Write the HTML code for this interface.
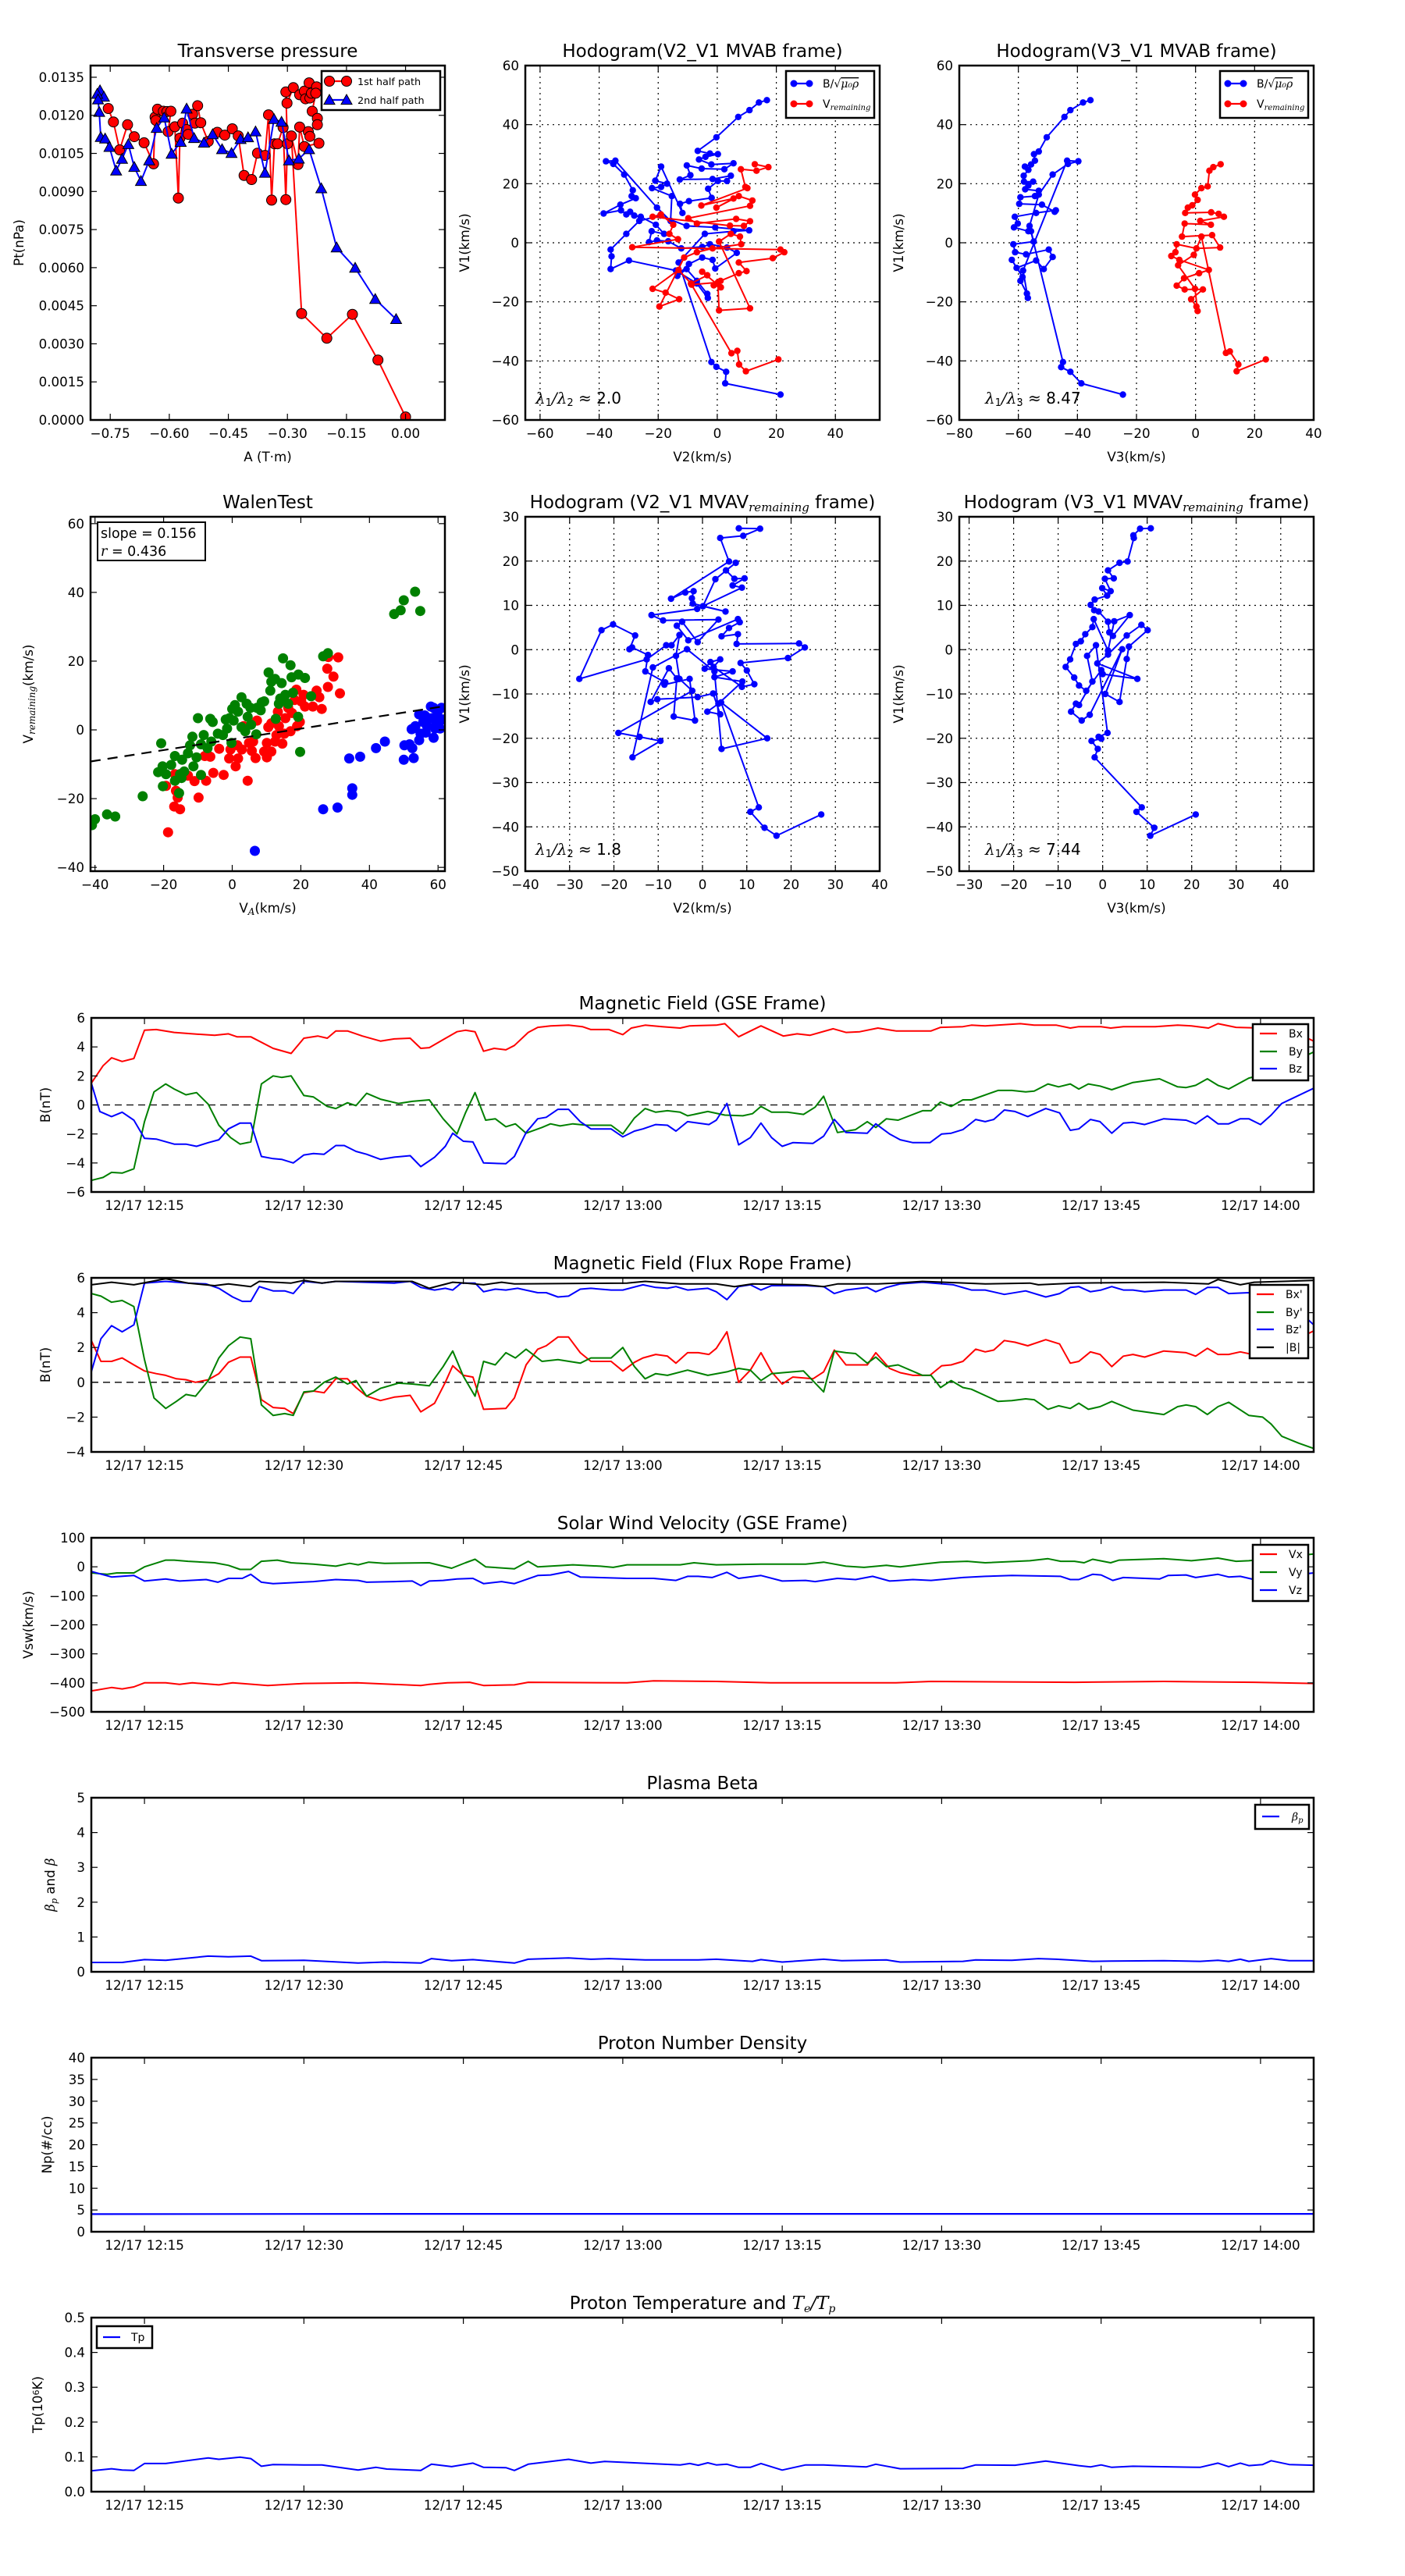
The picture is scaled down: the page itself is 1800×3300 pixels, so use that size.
<!DOCTYPE html>
<html><head><meta charset="utf-8">
<style>
html,body{margin:0;padding:0;background:#fff;width:1800px;height:3300px;overflow:hidden}
svg text{font-family:"DejaVu Sans","Liberation Sans",sans-serif;fill:#000}
</style></head>
<body>
<svg id="fig" width="1800" height="3300" viewBox="0 0 1800 3300" xmlns="http://www.w3.org/2000/svg">
<rect x="0" y="0" width="1800" height="3300" fill="#fff"/>
</svg>
<script>
// ===== DATA =====
// Transverse pressure: [A (T·m), Pt (nPa)]
const tpFirst = [[-0.755,0.01227],[-0.742,0.01174],[-0.726,0.01064],[-0.706,0.01163],[-0.689,0.01116],[-0.664,0.01092],[-0.640,0.01009],[-0.636,0.01193],[-0.630,0.01224],[-0.634,0.0118],[-0.615,0.01216],[-0.606,0.01215],[-0.596,0.01216],[-0.603,0.01136],[-0.586,0.01155],[-0.577,0.00874],[-0.573,0.0111],[-0.566,0.01169],[-0.556,0.01144],[-0.552,0.01125],[-0.541,0.01204],[-0.535,0.01169],[-0.528,0.01238],[-0.520,0.01171],[-0.501,0.01097],[-0.478,0.01133],[-0.459,0.01122],[-0.440,0.01147],[-0.425,0.01119],[-0.410,0.00963],[-0.391,0.00947],[-0.376,0.01051],[-0.357,0.01042],[-0.348,0.01202],[-0.340,0.00866],[-0.333,0.01088],[-0.325,0.01088],[-0.311,0.01152],[-0.304,0.00868],[-0.300,0.01088],[-0.304,0.01292],[-0.301,0.01248],[-0.285,0.01309],[-0.269,0.01281],[-0.257,0.01295],[-0.254,0.01265],[-0.245,0.01328],[-0.243,0.01268],[-0.239,0.01287],[-0.226,0.01312],[-0.228,0.01287],[-0.237,0.01216],[-0.224,0.01188],[-0.224,0.01163],[-0.247,0.01136],[-0.243,0.01117],[-0.220,0.0109],[-0.257,0.01077],[-0.269,0.01154],[-0.273,0.01006],[-0.290,0.01119],[-0.264,0.00419],[-0.200,0.00322],[-0.135,0.00416],[-0.070,0.00236],[0.0,0.00012]];
const tpSecond = [[-0.776,0.01298],[-0.766,0.01273],[-0.783,0.01284],[-0.781,0.01262],[-0.778,0.01213],[-0.774,0.01114],[-0.763,0.01108],[-0.752,0.01075],[-0.735,0.00982],[-0.720,0.01028],[-0.704,0.01086],[-0.689,0.00996],[-0.672,0.00941],[-0.651,0.01022],[-0.632,0.0115],[-0.613,0.01191],[-0.594,0.01048],[-0.571,0.01095],[-0.556,0.01226],[-0.537,0.0111],[-0.512,0.01092],[-0.490,0.01125],[-0.466,0.01066],[-0.442,0.01051],[-0.419,0.01106],[-0.400,0.01113],[-0.381,0.01136],[-0.357,0.00973],[-0.334,0.01185],[-0.315,0.01174],[-0.296,0.01022],[-0.271,0.01029],[-0.245,0.01066],[-0.214,0.00912],[-0.175,0.00679],[-0.128,0.00599],[-0.077,0.00476],[-0.024,0.00397]];
const tpXTicks = [-0.75,-0.60,-0.45,-0.30,-0.15,0.00];
const tpYTicks = [0,0.0015,0.003,0.0045,0.006,0.0075,0.009,0.0105,0.012,0.0135];

// Hodogram (V2_V1 MVAB): [V2, V1]
const hodo1B = [[16.8,48.3],[14.1,47.5],[10.9,44.9],[7.1,42.6],[-0.3,35.7],[-6.6,31.1],[-2.5,30.2],[0.2,30],[-4,29.1],[-6.2,28.2],[-2,26.5],[5.5,26.9],[2.4,24.9],[-5.3,25.1],[-10.3,26.2],[-9.1,22.9],[-12.7,21.4],[-1.6,21.6],[4.6,22.7],[3.3,20.9],[0.2,20.9],[-3.1,18.3],[-1.9,15.2],[-9.6,14.1],[-12.6,13.2],[-11.8,10.1],[-19,25.8],[-21,21],[-17,20],[-19,18.9],[-22.1,18.5],[-15.4,15.8],[-15.8,7.4],[-20.4,11.9],[-34.5,27.8],[-37.7,27.6],[-35.2,26.7],[-31.5,23.1],[-28.6,17.8],[-29,15.8],[-27.6,15.1],[-32.8,12.9],[-38.5,9.9],[-32.6,11],[-30.8,9.6],[-29.5,10.5],[-28.1,9.2],[-25.9,8.8],[-20.8,6.1],[-18,3],[-22.2,3.9],[-23.1,0.2],[-20.4,0.8],[-16.6,0.5],[-12.2,-1.9],[-5.1,-1.4],[-2.5,-0.5],[3.3,-1.6],[6.6,-3.4],[-0.7,-8.7],[-1.6,-5.8],[-5.1,-5],[-9.6,-7.2],[-13.5,-11.2],[-10.4,-8.9],[-6.9,-12.9],[-3.4,-17.3],[-3.2,-18.7],[-6.9,-13.8],[-14,-9.4],[-29.9,-6],[-36.1,-8.9],[-35.8,-4.6],[-36.1,-2.3],[-30.8,3],[-26.4,7.4],[-19.3,9.2],[-10.4,5.7],[-0.7,5.2],[10.8,4.2],[5.5,3.9],[-4.2,3],[-13.1,-6.7],[-2,-40.4],[-0.3,-42],[3,-43.7],[2.7,-47.6],[21.4,-51.4]];
const hodo1V = [[12.7,26.6],[17.3,25.6],[13.3,24.4],[8,24.9],[9.5,18.9],[10.2,18.5],[-5.4,12.6],[5.5,15],[-0.3,11.9],[7.3,15.8],[11.9,14.3],[11.1,12.5],[-9.8,8.3],[-6.9,6.5],[6.4,8.1],[11.1,7.3],[9,5.7],[4.3,5.8],[-21.9,8.8],[-19.1,9.6],[-14.9,6.1],[-16.2,3],[-13.3,1.2],[-28.8,-1.5],[21.4,-2.3],[22.7,-3.2],[18.8,-5.2],[7.3,-6.7],[9.9,-9.6],[7.3,-10.3],[1.1,-12.9],[-1.2,-14.4],[1.2,-15.1],[-5.1,-9.8],[-3.4,-11],[-8.9,-13.8],[-13.1,-9.2],[-21.9,-15.6],[-17.5,-16.9],[-12.9,-19.1],[-19.6,-21.6],[-11.2,-5],[-6.9,-3.2],[-1.6,-1.9],[8.1,-0.5],[7.7,2.1],[4.6,3],[0.6,0.4],[11.1,-22.2],[0.6,-22.9],[0.2,-13.4],[-8.7,-14.2],[4.8,-37.4],[6.8,-36.6],[7.4,-41.2],[9.7,-43.5],[20.7,-39.5]];
// Hodogram (V3_V1 MVAB): [V3, V1]
const hodo2B = [[-35.6,48.3],[-38.1,47.5],[-42.4,44.9],[-44.4,42.6],[-50.4,35.7],[-53.1,30.9],[-54.7,30],[-54.4,27.8],[-55.7,26.5],[-57.8,25.8],[-56.6,24.7],[-58.2,22.7],[-58.1,20.7],[-55,20.7],[-56.6,19.4],[-57.7,18.1],[-53.1,17.6],[-54.4,15.8],[-59.3,15.4],[-59.7,13.2],[-52,12.9],[-47.7,10.5],[-47.3,11],[-54,10.1],[-61.2,8.8],[-60.2,6.5],[-61.5,5.2],[-56.6,3.9],[-55.7,3.9],[-54.8,0.4],[-61.7,-0.5],[-61.1,-3.2],[-57.4,-3.9],[-49.7,-2.3],[-48.4,-4.8],[-51.4,-8.9],[-54,-6],[-60.6,-8.5],[-62.2,-5.8],[-58.6,-11.6],[-59.3,-12.9],[-57.1,-17.2],[-56.8,-18.7],[-58.4,-9.4],[-43.5,27.8],[-39.7,27.6],[-43.2,26.7],[-48.4,23.1],[-53.1,16.3],[-56.2,5.7],[-44.9,-40.4],[-45.5,-42.1],[-42.4,-43.7],[-38.7,-47.6],[-24.6,-51.4]];
const hodo2V = [[8.5,26.6],[6,25.6],[4.7,24.4],[4.1,19.1],[2,18.5],[-0.2,16.3],[0.7,14.5],[-1.1,12.7],[-2.6,11.9],[-3.5,10.1],[5.3,10.3],[7.8,9.8],[9.6,8.8],[1.6,7.4],[5.2,6.1],[-3.7,6.5],[-4.6,2.1],[5.6,2.6],[8.3,-1.6],[0.3,-1.9],[-6.4,-0.5],[-6.8,-3.2],[-8.2,-4.5],[-5.5,-5.8],[4.5,-9.2],[1.2,-10.3],[-3.9,-12],[-6.4,-14.5],[-3.7,-15.8],[2.5,-15.8],[-1.5,-19.1],[0.3,-21.6],[0.7,-23.1],[-0.2,-15.6],[-5.9,-7.6],[-0.6,-4.1],[2,2.1],[10.3,-37.3],[11.6,-36.8],[14.5,-41.2],[13.9,-43.5],[23.8,-39.5]];
// Walen test: [V_A, V_remaining]
const walenGreen = [[-40.9,-27.7],[-40,-26],[-36.5,-24.6],[-34.1,-25.2],[-26.1,-19.3],[-20.7,-3.9],[-21.6,-12.3],[-20.3,-10.6],[-20.2,-16.4],[-19.3,-12.9],[-17.8,-10.2],[-16.7,-7.6],[-16.7,-14.8],[-15.5,-18.4],[-15.2,-12.9],[-14.8,-14],[-14.6,-8.7],[-14,-12.1],[-12.9,-6.8],[-12.3,-4.5],[-11.6,-2],[-11.3,-10.6],[-10.4,-8],[-10,3.4],[-9.1,-13.1],[-9.1,-4.2],[-8.3,-1.5],[-7.2,-5.3],[-6.4,3.2],[-5.7,2.3],[-6.1,-3.4],[-4.2,-1.1],[-2.7,-1.5],[-1.9,3],[-1.5,0.4],[-0.8,3.4],[0,6.1],[0.4,2.7],[-0.2,-3.8],[0.8,7.2],[1.7,5.3],[2.7,9.5],[2.7,0.8],[3.8,-0.4],[4.2,7.6],[4.5,3.8],[5.3,6.4],[5.5,1.5],[7,-1.3],[7.2,6.4],[8.3,5.7],[8.6,8],[9.3,8.3],[10.6,16.7],[11.1,11.4],[11.4,14],[12.5,14.8],[12.7,3.2],[13.6,7.6],[14,9.1],[14.4,13.6],[14.8,20.8],[15.5,10.2],[16.3,7.6],[17,18.8],[17.3,15.3],[17.7,10.8],[19.2,3.8],[19.3,16.1],[19.8,-6.4],[21.2,15.1],[23,9.8],[26.5,21.4],[27.9,22.3],[47.2,33.7],[49.1,34.8],[50,37.7],[53.3,40.2],[54.8,34.6]];
const walenRed = [[-18.7,-29.8],[-16.9,-22.3],[-15.2,-23.1],[-19.3,-16.3],[-16.4,-17.7],[-15.9,-19.7],[-16.7,-12.9],[-12.9,-13.3],[-11,-14.9],[-9.8,-19.7],[-7.6,-14.8],[-8,-7.6],[-6.4,-7.8],[-5.5,-12.5],[-3.8,-5.5],[-2.5,-13.1],[-0.9,-8.3],[-0.5,-5.7],[1,-10.6],[1.7,-8.3],[1.5,-4.5],[2.8,-5.7],[3.3,1.1],[4.5,-14.8],[4.9,-3.8],[5.7,-6.1],[6.1,-3.4],[6.8,-8.2],[7.2,2.7],[9.3,-6.3],[10.1,-8],[10.1,-3.8],[10.5,0.8],[11.4,-6.3],[11.4,1.9],[12.5,-3.4],[12.9,-1.5],[13.3,5.3],[13.6,1.1],[14.6,-4],[15.2,-1.1],[15.5,3.4],[16.3,6.4],[17,-0.4],[17.4,4.9],[18.2,8.7],[18.7,11.7],[18.9,1.1],[19.7,2.3],[20.1,8.3],[20.8,10.2],[21.2,6.8],[23.5,6.8],[24.6,11.4],[25.4,9.5],[26.1,6.1],[27.7,17.8],[27.9,12.5],[28,21.2],[29.5,15.5],[30.9,21.1],[31.4,10.6]];
const walenBlue = [[6.6,-35.2],[26.5,-23.1],[30.7,-22.6],[34.1,-8.3],[35,-17],[35,-18.9],[37.3,-7.8],[41.9,-5.3],[44.5,-3.4],[50,-8.7],[50.2,-4.5],[51.7,-4.2],[52.5,-5.3],[52.9,-8.2],[52.3,0.2],[53.4,1.1],[54.5,4.5],[54.5,-3],[55.7,2.3],[56.4,-0.8],[57.2,3.4],[57.9,6.8],[58.7,6.4],[58.7,-2.3],[59.5,1.9],[59.8,4.9],[60.6,0.4],[61,6.4],[61.4,3],[52.7,0.4],[54.9,-1.1],[56.1,4.2],[56.8,1.1],[58.3,3.4],[59.1,0.4],[60.2,3.4]];
const walenFit = [0.156, -2.76];
// Hodogram (V2_V1 MVAV remaining)
const hodo3B = [[8.2,27.4],[13,27.3],[9.2,25.7],[4,25.2],[6,19.9],[-7.1,11.5],[-3.9,12.9],[-2,13.2],[-2.4,11.6],[-2.2,10.4],[5.2,8.6],[0.1,9.8],[2.9,15.9],[7.5,19.6],[5.3,17.9],[7.2,16],[9.5,16.1],[6.8,14.5],[8.9,14],[-1.2,9.2],[-11.5,7.8],[-8.9,6.6],[3.6,6.8],[-1.1,1.7],[-4.6,6.3],[-5.8,5.4],[-3.2,2.1],[8,6.9],[8.4,6.2],[6,4.9],[4.3,3],[8,3.5],[7.7,1.3],[21.8,1.4],[23.1,0.5],[19.3,-1.9],[8.6,-3],[10,-4.7],[11.7,-7.8],[8.9,-8.4],[2.5,-3.9],[4,-2.2],[1.8,-2.8],[0.5,-4.3],[6.8,-4.9],[2.7,-6.2],[9,-7.2],[3.6,-12.2],[1.1,-14],[4,-14.6],[2.4,-9.9],[-1.1,-10.7],[-10.2,-11.2],[-11.7,-11.8],[-7.6,-4.2],[-5.8,-6.5],[-6.5,-15.1],[-1.7,-16],[-2.9,-6.6],[-8.6,-7.9],[-8.4,-7.4],[-12.9,-4.9],[-12.3,-1.2],[-15.9,0.5],[-16.5,0.1],[-15.2,3.2],[-20.2,5.7],[-22.8,4.4],[-27.8,-6.6],[-12.6,-2.2],[-8.2,1],[-7,1],[-5.2,3.3],[-6,-1.4],[-5.2,-6.6],[-2.3,-9.3],[-19,-18.8],[-14.2,-19.7],[-9.5,-20.6],[-15.8,-24.3],[-11.2,-4],[-3.5,0.1],[2.7,-4.9],[4.3,-22.4],[14.6,-20],[4.2,-11.9],[12.7,-35.6],[10.8,-36.6],[14,-40.2],[16.7,-42],[26.8,-37.2]];
// Hodogram (V3_V1 MVAV remaining)
const hodo4B = [[10.8,27.4],[8.4,27.3],[6.9,25.8],[7,25.2],[5.6,19.9],[3.8,19.6],[1.2,17.9],[2.5,16.1],[0.5,16],[1.8,13.2],[-0.1,13.9],[1,12.2],[-1.8,11.3],[-2.7,10.1],[-1.9,8.9],[-0.9,8.6],[1.2,6.3],[1.5,3.9],[2.3,3.1],[6.1,7.8],[2.6,6.4],[1.2,-0.2],[-2,6.9],[-2.3,5.1],[-3.9,3.5],[-4.9,1.9],[-6,1.3],[-7.3,-2.2],[-8.3,-3.9],[-6.4,-6.3],[-5.3,-8.1],[-3.7,-9.3],[-0.3,-4.6],[0,-5.5],[7.8,-6.6],[-1.2,-3.1],[1.2,-1.1],[5.4,3.2],[8.7,5.6],[10.1,4.4],[5.9,0.7],[5.4,-2.1],[3.8,-11.8],[0.6,-10],[4.4,0.1],[-2.9,-14.7],[-4.7,-16],[-7.1,-14],[-6,-12.2],[-5.3,-12.5],[-2.3,-7.2],[-3.5,-1.4],[-1.5,1],[1.1,-18.8],[-0.9,-19.7],[-0.3,-20.1],[-2.5,-20.6],[-1.1,-22.4],[-1.8,-24.3],[8.8,-35.6],[7.6,-36.6],[11.6,-40.2],[10.7,-42],[20.9,-37.2]];

// Time series: [minutes since 12:10, value]
const timeTickMinutes = [5,20,35,50,65,80,95,110];
const timeTickLabels = ["12/17 12:15","12/17 12:30","12/17 12:45","12/17 13:00","12/17 13:15","12/17 13:30","12/17 13:45","12/17 14:00"];
const bxGSE = [[0,1.5],[1.1,2.7],[1.9,3.25],[2.9,3.0],[4,3.2],[5,5.15],[6.1,5.2],[7.8,5.0],[9.5,4.9],[11.6,4.8],[12.9,4.9],[13.7,4.7],[15,4.7],[17.1,3.9],[18.8,3.55],[20,4.6],[21.3,4.75],[22.2,4.6],[23,5.1],[24.1,5.1],[25.5,4.75],[27.2,4.4],[28.5,4.55],[30,4.6],[31,3.9],[31.8,3.95],[33.1,4.5],[34.4,5.05],[35.2,5.15],[36.1,5.05],[36.9,3.7],[37.9,3.9],[39,3.8],[39.8,4.1],[41.1,5.0],[42,5.35],[43.2,5.45],[44.9,5.5],[46.2,5.4],[47,5.2],[48.7,5.2],[50,4.85],[50.8,5.3],[52.1,5.5],[53.7,5.4],[55.4,5.3],[56.3,5.45],[58.8,5.5],[59.6,5.6],[60.9,4.7],[63,5.45],[65.1,4.75],[66.4,4.9],[67.6,4.8],[69.8,5.25],[71,5.0],[72.3,5.05],[74,5.3],[75.7,5.1],[79,5.1],[79.9,5.35],[82,5.4],[82.8,5.5],[84.1,5.45],[87.4,5.6],[88.7,5.5],[90.8,5.5],[92.1,5.3],[92.9,5.4],[95,5.4],[95.9,5.3],[97.1,5.4],[100.1,5.4],[102.2,5.5],[103.5,5.45],[105.1,5.3],[106,5.6],[107.7,5.35],[110.2,5.3],[112.7,5.2],[115,4.4]];
const byGSE = [[0,-5.2],[1.1,-5.0],[1.9,-4.65],[2.9,-4.7],[4,-4.4],[5,-1.15],[5.9,0.9],[7,1.45],[7.8,1.1],[8.9,0.7],[9.9,0.85],[11,0.05],[12,-1.4],[13.1,-2.25],[14,-2.7],[15,-2.55],[16,1.45],[17.1,2.0],[17.9,1.9],[18.8,2.0],[20,0.65],[20.9,0.55],[22.2,-0.1],[23,-0.25],[24.1,0.15],[24.9,-0.05],[25.9,0.8],[27.2,0.4],[28.9,0.1],[30.2,0.25],[31.8,0.35],[33.1,-0.95],[34.4,-2.0],[35.2,-0.55],[36.1,0.85],[37.1,-1.05],[38,-0.95],[39,-1.5],[39.9,-1.3],[40.9,-1.95],[42.4,-1.55],[43.2,-1.3],[44.1,-1.45],[45.3,-1.3],[46.6,-1.4],[48.9,-1.4],[50,-2.0],[51.1,-0.9],[52.1,-0.25],[53.1,-0.5],[54.2,-0.4],[55.4,-0.5],[56.1,-0.75],[58,-0.45],[59.6,-0.7],[61.3,-0.75],[62.2,-0.6],[63,-0.1],[64,-0.5],[65.5,-0.5],[67,-0.65],[68.1,-0.15],[68.9,0.6],[70.2,-1.9],[71.9,-1.7],[73,-1.15],[73.8,-1.55],[74.8,-0.95],[75.9,-1.05],[78.2,-0.4],[79,-0.4],[79.9,0.2],[80.9,-0.1],[82,0.35],[82.8,0.35],[85.3,1.0],[86.6,1.0],[87.9,0.9],[88.7,0.95],[90,1.45],[91,1.25],[92.1,1.45],[92.9,1.1],[93.8,1.45],[94.9,1.3],[96,1.05],[98,1.55],[100.5,1.8],[102.2,1.25],[103,1.2],[103.9,1.35],[105,1.8],[106,1.35],[107,1.1],[108.9,1.85],[110.2,2.1],[112,2.6],[115,3.65]];
const bzGSE = [[0,1.5],[0.8,-0.45],[1.9,-0.8],[2.9,-0.5],[4,-1.05],[5,-2.3],[6.1,-2.35],[7.8,-2.7],[8.9,-2.7],[9.9,-2.85],[11,-2.6],[12,-2.4],[12.9,-1.65],[14,-1.25],[15,-1.25],[16,-3.55],[17.1,-3.7],[17.9,-3.75],[19,-4.0],[20,-3.45],[20.9,-3.35],[21.9,-3.4],[23,-2.8],[23.8,-2.8],[24.9,-3.2],[25.9,-3.4],[27.2,-3.75],[28.5,-3.6],[30,-3.5],[31,-4.25],[32.3,-3.6],[33.3,-2.85],[34,-1.95],[35,-2.5],[35.9,-2.55],[36.9,-4.0],[39,-4.05],[39.8,-3.55],[40.9,-1.9],[42,-0.95],[42.8,-0.85],[43.9,-0.3],[44.9,-0.3],[46,-1.15],[47,-1.65],[48.9,-1.65],[50,-2.2],[51.1,-1.8],[51.9,-1.65],[53.1,-1.35],[54.2,-1.4],[55,-1.8],[56.1,-1.15],[57.1,-1.25],[58.1,-1.35],[58.8,-1.05],[59.8,0.1],[60.9,-2.75],[62,-2.25],[63,-1.25],[64,-2.25],[65,-2.85],[66,-2.6],[67.9,-2.65],[68.9,-2.15],[69.9,-1.0],[71,-1.9],[73,-1.95],[73.8,-1.3],[75.1,-2.0],[76.1,-2.4],[77.3,-2.6],[78.9,-2.6],[80,-2.0],[80.9,-1.95],[82,-1.7],[83.2,-1.0],[84.1,-1.15],[84.9,-1.0],[85.9,-0.35],[86.9,-0.45],[88.1,-0.8],[89.8,-0.25],[91.1,-0.55],[92.1,-1.75],[92.9,-1.65],[94,-1.0],[94.9,-1.15],[96,-1.95],[97.1,-1.25],[98,-1.2],[99.1,-1.35],[100.9,-0.95],[103,-1.05],[103.9,-1.3],[105,-0.75],[106,-1.3],[107,-1.3],[108.1,-0.95],[108.9,-0.95],[110,-1.35],[111,-0.7],[112,0.1],[115,1.15]];
const bxFR = [[0,2.4],[0.9,1.2],[1.9,1.2],[2.9,1.4],[4,1.0],[5,0.65],[6.1,0.5],[7,0.4],[8,0.2],[8.9,0.15],[9.8,0.0],[11,0.15],[12,0.5],[12.9,1.15],[14,1.45],[15,1.45],[16,-1.0],[17.1,-1.45],[18.2,-1.5],[19,-1.8],[20,-0.6],[20.9,-0.5],[21.9,-0.6],[23,0.2],[24.1,0.2],[24.9,-0.3],[25.9,-0.8],[27.2,-1.05],[28.5,-0.85],[30,-0.75],[31,-1.7],[32.3,-1.2],[33.3,0.0],[34,0.95],[35,0.4],[35.9,0.3],[36.9,-1.55],[39,-1.5],[39.8,-0.9],[40.9,1.0],[42,1.9],[42.8,2.1],[43.9,2.6],[44.9,2.6],[46,1.7],[47,1.2],[48.9,1.2],[50,0.65],[51.1,1.15],[51.9,1.4],[53.1,1.6],[54.2,1.5],[55,1.1],[56.1,1.7],[57.1,1.7],[58.1,1.6],[58.8,1.95],[59.8,2.9],[60.9,0.0],[62,0.7],[63,1.7],[64,0.6],[65,-0.1],[66,0.3],[67.9,0.2],[68.9,0.6],[69.9,1.85],[71,1.0],[73,1.0],[73.8,1.7],[75.1,0.8],[76.1,0.55],[77.3,0.4],[78.9,0.4],[80,0.95],[80.9,1.0],[82,1.2],[83.2,1.9],[84.1,1.75],[84.9,1.85],[85.9,2.4],[86.9,2.3],[88.1,2.1],[89.8,2.45],[91.1,2.2],[92.1,1.1],[92.9,1.2],[94,1.75],[94.9,1.6],[96,0.9],[97.1,1.5],[98,1.6],[99.1,1.45],[100.9,1.8],[103,1.7],[103.9,1.5],[105,1.95],[106,1.6],[107,1.6],[108.1,1.75],[110,1.5],[115,2.95]];
const byFR = [[0,5.1],[0.9,4.95],[1.9,4.6],[2.9,4.7],[4,4.35],[5,1.3],[5.9,-0.9],[7,-1.5],[8,-1.1],[8.9,-0.7],[9.8,-0.8],[11,0.1],[12,1.4],[12.9,2.1],[14,2.6],[15,2.5],[16,-1.3],[17.1,-1.9],[18.2,-1.8],[19,-1.9],[20,-0.55],[20.9,-0.5],[21.9,0.0],[23,0.3],[24.1,-0.1],[24.9,0.1],[25.9,-0.8],[27.2,-0.35],[28.9,-0.05],[30.2,-0.1],[31.8,-0.2],[33.1,0.9],[34,1.8],[35,0.35],[36.1,-0.8],[36.9,1.2],[38,1.0],[39,1.7],[39.9,1.4],[40.9,1.9],[42.4,1.2],[43.9,1.3],[46,1.1],[47,1.4],[48.9,1.4],[50,2.0],[51.1,0.9],[52.1,0.2],[53.1,0.5],[54.2,0.4],[56.1,0.7],[58,0.4],[59.8,0.6],[60.9,0.8],[62,0.7],[63,0.1],[64,0.5],[66,0.6],[67,0.65],[68.9,-0.55],[69.9,1.8],[71,1.7],[71.9,1.65],[73,1.1],[73.8,1.45],[74.8,0.9],[75.9,1.0],[78.2,0.4],[79,0.4],[79.9,-0.3],[80.9,0.1],[82,-0.3],[82.8,-0.4],[85.3,-1.1],[86.6,-1.05],[87.9,-0.95],[88.7,-1.0],[90,-1.55],[91,-1.35],[92.1,-1.5],[92.9,-1.2],[93.8,-1.55],[94.9,-1.4],[96,-1.1],[98,-1.6],[100.9,-1.85],[102.2,-1.4],[103,-1.3],[103.9,-1.4],[105,-1.85],[106,-1.4],[107,-1.15],[108.9,-1.9],[110.2,-2.0],[111,-2.4],[112,-3.1],[113.6,-3.5],[115,-3.8]];
const bzFR = [[0,0.6],[0.9,2.5],[1.9,3.25],[2.9,2.9],[4,3.3],[5,5.7],[7,5.8],[9.1,5.7],[10.8,5.65],[12,5.4],[13.3,4.9],[14.2,4.65],[15,4.65],[15.8,5.5],[17.1,5.25],[18.2,5.25],[19,5.1],[20,5.8],[21.7,5.7],[23,5.8],[28.5,5.7],[30,5.8],[31,5.45],[32.3,5.3],[33.3,5.4],[34,5.3],[34.8,5.7],[36.1,5.7],[36.9,5.2],[38,5.35],[39,5.3],[40.1,5.4],[42,5.15],[42.8,5.15],[43.9,4.9],[44.9,4.95],[46,5.35],[47,5.4],[48.9,5.3],[50,5.3],[51.9,5.6],[53.1,5.45],[54.2,5.4],[55,5.5],[56.1,5.3],[58,5.4],[58.8,5.2],[59.8,4.75],[60.9,5.5],[62,5.6],[63,5.3],[64,5.55],[67.2,5.55],[68.9,5.5],[69.9,5.1],[71,5.3],[73,5.45],[73.8,5.2],[74.8,5.45],[76.1,5.65],[78.2,5.75],[81.1,5.6],[82.8,5.3],[84.1,5.3],[85.9,5.05],[87.9,5.25],[89.8,4.9],[91.1,5.1],[92.1,5.45],[92.9,5.5],[94,5.2],[95,5.3],[96,5.5],[97.1,5.3],[98,5.3],[99.1,5.2],[100.9,5.3],[103,5.3],[103.9,5.05],[105,5.45],[106,5.45],[107,5.1],[108.9,5.15],[112,5.0],[115,3.3]];
const btFR = [[0,5.6],[1.9,5.75],[4,5.6],[7,5.95],[9.1,5.7],[11.6,5.55],[12.9,5.65],[15,5.5],[15.8,5.8],[18.8,5.7],[20,5.85],[21.7,5.7],[23,5.8],[30.2,5.8],[31.8,5.4],[34,5.75],[35.2,5.7],[36.9,5.6],[38.6,5.75],[39.8,5.65],[50.4,5.7],[52.1,5.8],[55.4,5.65],[58.8,5.65],[60.5,5.5],[62.2,5.65],[67.2,5.6],[68.9,5.5],[70.2,5.65],[74,5.65],[75.7,5.7],[78.2,5.8],[84.1,5.65],[88.3,5.7],[89.1,5.6],[92.5,5.7],[100.9,5.75],[105.1,5.65],[106,5.9],[108.1,5.6],[109.4,5.75],[115,5.85]];
const vxGSE = [[0,-428],[1.9,-416],[2.9,-421],[4,-414],[5,-400],[7,-400],[8.3,-405],[9.5,-400],[12,-407],[13.3,-400],[16.6,-409],[20,-402],[25,-400],[31,-409],[31.8,-405],[33.5,-400],[35.6,-398],[36.9,-409],[39.8,-407],[41.1,-398],[50.4,-400],[52.9,-393],[58.8,-395],[63.9,-400],[75.7,-400],[79,-395],[92.5,-398],[100.9,-395],[109.4,-398],[115,-402]];
const vyGSE = [[0,-21],[1.5,-26],[2.4,-21],[4,-21],[5,0],[7,23],[7.8,23],[9.1,19],[11.6,14],[12.9,5],[14,-9],[15,-9],[16,19],[17.5,23],[18.8,14],[20.9,9],[23,2],[24.3,12],[25.1,7],[26.1,16],[27.6,12],[31.8,14],[33.9,-5],[35.2,14],[36.1,26],[37.1,0],[39.8,-7],[41.1,19],[42,0],[45.3,7],[47.9,2],[49.1,-2],[50.4,7],[55.4,7],[56.7,14],[58.8,7],[63,9],[67.2,9],[68.9,16],[71,2],[72.7,-2],[74.8,5],[76.1,0],[78.2,9],[79.9,16],[82.4,19],[84.1,14],[88.3,21],[90,28],[91.2,19],[92.5,19],[93.4,14],[94.2,26],[95.9,14],[96.7,23],[100.9,28],[103.5,21],[106,30],[107.7,19],[108.9,21],[115,44]];
const vzGSE = [[0,-16],[1.9,-35],[4,-30],[5,-49],[7,-42],[8.3,-49],[10.8,-44],[11.9,-53],[12.9,-40],[14.2,-40],[15,-26],[16,-53],[17.1,-58],[20.9,-51],[23,-44],[25.1,-47],[25.9,-53],[28.5,-51],[30.2,-49],[31,-65],[31.8,-49],[33.1,-47],[34.4,-42],[35.9,-40],[36.9,-58],[38.6,-51],[39.8,-58],[42,-30],[43.2,-28],[44.9,-16],[46,-35],[50.4,-40],[52.9,-40],[55,-47],[56.1,-33],[57.1,-33],[58.4,-37],[59.8,-19],[60.9,-40],[63,-30],[65,-49],[67.2,-47],[68.1,-51],[70.2,-40],[71.9,-44],[73.5,-33],[75.1,-49],[77.3,-44],[79,-47],[82,-37],[84.1,-33],[86.6,-30],[91.2,-33],[92.1,-44],[92.9,-44],[94.2,-26],[95,-28],[96.1,-47],[97.1,-37],[100.5,-42],[101.3,-30],[103,-28],[103.9,-37],[106,-26],[107,-35],[108.1,-33],[109.4,-44],[115,-21]];
const betaP = [[0,0.27],[2.9,0.27],[5,0.35],[7,0.33],[11,0.45],[12.9,0.43],[15,0.45],[16,0.32],[20,0.33],[25.1,0.25],[27.6,0.28],[31,0.25],[32,0.38],[33.9,0.32],[35.9,0.35],[39.8,0.25],[41.1,0.36],[44.9,0.40],[47,0.36],[48.7,0.38],[52.1,0.34],[57.1,0.34],[58.8,0.36],[62.2,0.30],[63,0.35],[65,0.28],[68.9,0.36],[70.6,0.32],[74.8,0.34],[76.1,0.28],[82,0.30],[83.2,0.34],[86.6,0.33],[89.1,0.38],[90.8,0.36],[94.2,0.30],[95.9,0.31],[100.9,0.32],[104.3,0.30],[106,0.33],[107,0.30],[108.1,0.36],[108.9,0.30],[111,0.38],[112.7,0.32],[115,0.32]];
const npDensity = [[0,4.05],[30,4.1],[60,4.1],[90,4.1],[115,4.1]];
const tpTemp = [[0,0.06],[1.9,0.066],[2.9,0.062],[4,0.061],[5,0.081],[7,0.081],[11,0.097],[12,0.093],[14,0.099],[15,0.095],[16,0.073],[17.1,0.078],[20,0.077],[21.7,0.077],[25.1,0.062],[26.8,0.07],[27.8,0.065],[31,0.061],[32,0.079],[33.9,0.072],[35.9,0.082],[36.9,0.07],[39,0.069],[39.8,0.061],[41.1,0.079],[44.9,0.093],[47,0.082],[48.3,0.087],[55.4,0.077],[56.3,0.081],[57.1,0.076],[58,0.083],[58.8,0.077],[59.8,0.079],[60.9,0.07],[62,0.07],[63,0.081],[65,0.062],[67.2,0.077],[68.9,0.077],[72.9,0.071],[73.8,0.079],[76.1,0.066],[82,0.067],[83.2,0.077],[86.9,0.076],[89.8,0.088],[92.9,0.075],[94,0.071],[95,0.077],[96,0.07],[98,0.073],[104.3,0.07],[106,0.082],[107,0.072],[108.1,0.082],[108.9,0.075],[110.2,0.078],[111,0.089],[112.7,0.078],[115,0.076]];

// ===== DRAWING =====
const NS = "http://www.w3.org/2000/svg";
const svg = document.getElementById('fig');
function mk(tag, parent, attrs){ const e=document.createElementNS(NS,tag); for(const k in attrs) e.setAttribute(k, attrs[k]); parent.appendChild(e); return e; }
function fmtNum(v, d){ const s = Math.abs(v).toFixed(d); return (v < -1e-12 ? "\u2212" : "") + s; }
let clipN = 0;
function makeAxes(name, L, T, W, H, xr, yr){
  const g = mk('g', svg, {});
  
  
  clipN++;
  const cp = mk('clipPath', g, {id:'clip'+clipN});
  mk('rect', cp, {x:L, y:T, width:W, height:H});
  const ax = {g, L, T, W, H, xr, yr,
    sx: v => L + (v - xr[0]) / (xr[1] - xr[0]) * W,
    sy: v => T + H - (v - yr[0]) / (yr[1] - yr[0]) * H};
  ax.grid = mk('g', g, {});
  
  
  ax.plot = mk('g', g, {'clip-path':'url(#clip'+clipN+')'});
  
  
  return ax;
}
function frame(ax){
  const r = mk('rect', ax.g, {x:ax.L, y:ax.T, width:ax.W, height:ax.H, fill:'none', stroke:'#000', 'stroke-width':2.5});
  
  
}
function xTicks(ax, vals, labels, grid){
  const tg = mk('g', ax.g, {});
  
  
  vals.forEach((v,i)=>{
    const x = ax.sx(v);
    if(grid){ const gl = mk('line', ax.grid, {x1:x, x2:x, y1:ax.T, y2:ax.T+ax.H, stroke:'#000', 'stroke-width':1.2, 'stroke-dasharray':'2,5'});
        }
    mk('line', tg, {x1:x, x2:x, y1:ax.T+ax.H, y2:ax.T+ax.H-8, stroke:'#000', 'stroke-width':1.2});
    mk('line', tg, {x1:x, x2:x, y1:ax.T, y2:ax.T+8, stroke:'#000', 'stroke-width':1.2});
    const t = mk('text', tg, {x:x, y:ax.T+ax.H+23, 'text-anchor':'middle', 'font-size':'16.7px'});
    
    
    t.textContent = labels[i];
  });
}
function yTicks(ax, vals, labels, grid){
  const tg = mk('g', ax.g, {});
  
  
  vals.forEach((v,i)=>{
    const y = ax.sy(v);
    if(grid){ const gl = mk('line', ax.grid, {x1:ax.L, x2:ax.L+ax.W, y1:y, y2:y, stroke:'#000', 'stroke-width':1.2, 'stroke-dasharray':'2,5'});
        }
    mk('line', tg, {x1:ax.L, x2:ax.L+8, y1:y, y2:y, stroke:'#000', 'stroke-width':1.2});
    mk('line', tg, {x1:ax.L+ax.W, x2:ax.L+ax.W-8, y1:y, y2:y, stroke:'#000', 'stroke-width':1.2});
    const t = mk('text', tg, {x:ax.L-8, y:y+6, 'text-anchor':'end', 'font-size':'16.7px'});
    
    
    t.textContent = labels[i];
  });
}
function addParts(t, parts){
  parts.forEach(p=>{
    const s = mk('tspan', t, {});
    if(p.math){ s.setAttribute('font-family','DejaVu Serif, Liberation Serif, serif'); s.setAttribute('font-style','italic'); }
    if(p.sub){ s.setAttribute('font-size', p.sub); s.setAttribute('baseline-shift','-25%'); }
    if(p.sup){ s.setAttribute('font-size', p.sup); s.setAttribute('baseline-shift','40%'); }
    if(p.over){ s.setAttribute('text-decoration','overline'); }
    s.textContent = p.s;
  });
}
function title(ax, parts, name){
  const t = mk('text', ax.g, {x:ax.L+ax.W/2, y:ax.T-11, 'text-anchor':'middle', 'font-size':'23px'});
  
  
  addParts(t, parts);
}
function xlabel(ax, parts, name){
  const t = mk('text', ax.g, {x:ax.L+ax.W/2, y:ax.T+ax.H+53, 'text-anchor':'middle', 'font-size':'16.7px'});
  
  
  addParts(t, parts);
}
function ylabel(ax, parts, name, xc){
  const yc = ax.T + ax.H/2;
  const t = mk('text', ax.g, {x:xc+6, y:yc, 'text-anchor':'middle', 'font-size':'16.7px', transform:'rotate(-90 '+(xc+6)+' '+yc+')'});
  
  
  addParts(t, parts);
}
function polyline(ax, pts, color, w, name){
  const p = mk('polyline', ax.plot, {points: pts.map(d=>ax.sx(d[0]).toFixed(1)+','+ax.sy(d[1]).toFixed(1)).join(' '), fill:'none', stroke:color, 'stroke-width':w, 'stroke-linejoin':'round'});
  
  
  return p;
}
function dots(ax, pts, color, r, name, edge){
  const g = mk('g', ax.plot, {});
  
  
  pts.forEach(d=>{
    const c = mk('circle', g, {cx:ax.sx(d[0]).toFixed(1), cy:ax.sy(d[1]).toFixed(1), r:r, fill:color, stroke: edge ? '#000' : 'none', 'stroke-width': edge ? 1 : 0});
    
    
  });
}
function tris(ax, pts, color, s, name){
  const g = mk('g', ax.plot, {});
  
  
  pts.forEach(d=>{
    const x = ax.sx(d[0]), y = ax.sy(d[1]);
    const p = mk('polygon', g, {points:(x)+','+(y-s)+' '+(x-s)+','+(y+s*0.8)+' '+(x+s)+','+(y+s*0.8), fill:color, stroke:'#000', 'stroke-width':1});
    
    
  });
}
function hline(ax, v, name){
  const l = mk('line', ax.plot, {x1:ax.L, x2:ax.L+ax.W, y1:ax.sy(v), y2:ax.sy(v), stroke:'#000', 'stroke-width':1.3, 'stroke-dasharray':'9,6'});
  
  
}
function legendBox(ax, x, y, w, h){
  const lg = mk('g', ax.g, {});
  
  
  mk('rect', lg, {x:x, y:y, width:w, height:h, fill:'#fff', stroke:'#000', 'stroke-width':2.5});
  return lg;
}
function legendEntry(lg, x1, x2, y, color, tx, parts, fs, marker, name){
  const eg = mk('g', lg, {});
  
  
  mk('line', eg, {x1:x1, x2:x2, y1:y, y2:y, stroke:color, 'stroke-width':2.2});
  if(marker==='dot'){ mk('circle', eg, {cx:x1, cy:y, r:4.5, fill:color}); mk('circle', eg, {cx:x2, cy:y, r:4.5, fill:color}); }
  if(marker==='bigdot'){ mk('circle', eg, {cx:x1, cy:y, r:6.5, fill:color, stroke:'#000'}); mk('circle', eg, {cx:x2, cy:y, r:6.5, fill:color, stroke:'#000'}); }
  if(marker==='tri'){ [x1,x2].forEach(x=>mk('polygon', eg, {points:x+','+(y-7)+' '+(x-7)+','+(y+5.6)+' '+(x+7)+','+(y+5.6), fill:color, stroke:'#000'})); }
  const t = mk('text', eg, {x:tx, y:y+5, 'font-size':fs});
  addParts(t, parts);
}
function lambdaText(ax, x, y, parts, name){
  const t = mk('text', ax.g, {x:x, y:y, 'font-size':'20px'});
  
  
  addParts(t, parts);
}
const colL = [116, 673, 1229], rowT = [84, 662], AW = 454;

// ---- Transverse pressure ----
(function(){
  const ax = makeAxes('transverse-pressure-chart', colL[0], rowT[0], AW, AW, [-0.8, 0.1], [0, 0.01396]);
  polyline(ax, tpFirst, '#ff0000', 2, 'first-half-path-line');
  dots(ax, tpFirst, '#ff0000', 6.5, 'first-half-path', true);
  polyline(ax, tpSecond, '#0000ff', 2, 'second-half-path-line');
  tris(ax, tpSecond, '#0000ff', 7, 'second-half-path');
  xTicks(ax, tpXTicks, tpXTicks.map(v=>fmtNum(v,2)), false);
  yTicks(ax, tpYTicks, tpYTicks.map(v=>fmtNum(v,4)), false);
  frame(ax);
  title(ax, [{s:'Transverse pressure'}], 'transverse-pressure-title');
  xlabel(ax, [{s:'A (T\u00b7m)'}], 'x-axis-title');
  ylabel(ax, [{s:'Pt(nPa)'}], 'y-axis-title', 24);
  const lg = legendBox(ax, 412, 91, 152, 50);
  legendEntry(lg, 422, 444, 104, '#ff0000', 458, [{s:'1st half path'}], '12.8px', 'bigdot', 'legend-entry-first-half');
  legendEntry(lg, 422, 444, 128, '#0000ff', 458, [{s:'2nd half path'}], '12.8px', 'tri', 'legend-entry-second-half');
})();

function hodo(name, c, r, xr, yr, xt, yt, titleParts, xl, lam, series, legend){
  const ax = makeAxes(name, colL[c], rowT[r], AW, AW, xr, yr);
  xTicks(ax, xt, xt.map(v=>fmtNum(v,0)), true);
  yTicks(ax, yt, yt.map(v=>fmtNum(v,0)), true);
  series.forEach(s=>{ polyline(ax, s.d, s.c, 2, s.n+'-line'); dots(ax, s.d, s.c, 4.2, s.n, false); });
  frame(ax);
  title(ax, titleParts, name+'-title');
  xlabel(ax, [{s:xl}], 'x-axis-title');
  ylabel(ax, [{s:'V1(km/s)'}], 'y-axis-title', colL[c]-78);
  lambdaText(ax, colL[c]+ (c===1?13:33), rowT[r]+433, lam, 'eigenvalue-ratio-label');
  if(legend){
    const lx = colL[c]+AW-120;
    const lg = legendBox(ax, lx, rowT[r]+7, 113, 60);
    legendEntry(lg, lx+10, lx+30, rowT[r]+23, '#0000ff', lx+47, [{s:'B/\u221a'},{s:'\u03bc\u2080\u03c1', math:true, over:true}], '14px', 'dot', 'legend-entry-b-alfven');
    legendEntry(lg, lx+10, lx+30, rowT[r]+49, '#ff0000', lx+47, [{s:'V'},{s:'remaining', math:true, sub:'10px'}], '14px', 'dot', 'legend-entry-v-remaining');
  }
  return ax;
}
const h1X=[-60,-40,-20,0,20,40], h1Y=[-60,-40,-20,0,20,40,60];
const h2X=[-80,-60,-40,-20,0,20,40];
const h3X=[-40,-30,-20,-10,0,10,20,30,40], h3Y=[-50,-40,-30,-20,-10,0,10,20,30];
const h4X=[-30,-20,-10,0,10,20,30,40];
hodo('hodogram-v2-v1-mvab', 1, 0, [-65,55], [-60,60], h1X, h1Y, [{s:'Hodogram(V2_V1 MVAB frame)'}], 'V2(km/s)',
  [{s:'\u03bb',math:true},{s:'1',sub:'13px'},{s:'/',math:true},{s:'\u03bb',math:true},{s:'2',sub:'13px'},{s:' \u2248 2.0'}],
  [{d:hodo1B,c:'#0000ff',n:'b-alfven'},{d:hodo1V,c:'#ff0000',n:'v-remaining'}], true);
hodo('hodogram-v3-v1-mvab', 2, 0, [-80,40], [-60,60], h2X, h1Y, [{s:'Hodogram(V3_V1 MVAB frame)'}], 'V3(km/s)',
  [{s:'\u03bb',math:true},{s:'1',sub:'13px'},{s:'/',math:true},{s:'\u03bb',math:true},{s:'3',sub:'13px'},{s:' \u2248 8.47'}],
  [{d:hodo2B,c:'#0000ff',n:'b-alfven'},{d:hodo2V,c:'#ff0000',n:'v-remaining'}], true);
hodo('hodogram-v2-v1-mvav', 1, 1, [-40,40], [-50,30], h3X, h3Y, [{s:'Hodogram (V2_V1 MVAV'},{s:'remaining',math:true,sub:'15px'},{s:' frame)'}], 'V2(km/s)',
  [{s:'\u03bb',math:true},{s:'1',sub:'13px'},{s:'/',math:true},{s:'\u03bb',math:true},{s:'2',sub:'13px'},{s:' \u2248 1.8'}],
  [{d:hodo3B,c:'#0000ff',n:'b-alfven'}], false);
hodo('hodogram-v3-v1-mvav', 2, 1, [-32.2,47.4], [-50,30], h4X, h3Y, [{s:'Hodogram (V3_V1 MVAV'},{s:'remaining',math:true,sub:'15px'},{s:' frame)'}], 'V3(km/s)',
  [{s:'\u03bb',math:true},{s:'1',sub:'13px'},{s:'/',math:true},{s:'\u03bb',math:true},{s:'3',sub:'13px'},{s:' \u2248 7.44'}],
  [{d:hodo4B,c:'#0000ff',n:'b-alfven'}], false);

// ---- Walen test ----
(function(){
  const ax = makeAxes('walen-test-chart', colL[0], rowT[1], AW, AW, [-41.3, 62], [-41.1, 62]);
  const wt = [-40,-20,0,20,40,60];
  dots(ax, walenRed, '#ff0000', 6.5, 'walen-red', false);
  dots(ax, walenGreen, '#008000', 6.5, 'walen-green', false);
  dots(ax, walenBlue, '#0000ff', 6.5, 'walen-blue', false);
  const fx = [ax.xr[0], ax.xr[1]];
  const fl = mk('line', ax.plot, {x1:ax.sx(fx[0]), y1:ax.sy(walenFit[0]*fx[0]+walenFit[1]), x2:ax.sx(fx[1]), y2:ax.sy(walenFit[0]*fx[1]+walenFit[1]), stroke:'#000', 'stroke-width':2.2, 'stroke-dasharray':'13,9'});
  
  
  xTicks(ax, wt, wt.map(v=>fmtNum(v,0)), false);
  yTicks(ax, wt, wt.map(v=>fmtNum(v,0)), false);
  frame(ax);
  title(ax, [{s:'WalenTest'}], 'walen-test-title');
  xlabel(ax, [{s:'V'},{s:'A',math:true,sub:'12px'},{s:'(km/s)'}], 'x-axis-title');
  ylabel(ax, [{s:'V'},{s:'remaining',math:true,sub:'12px'},{s:'(km/s)'}], 'y-axis-title', 36);
  const ab = mk('g', ax.g, {});
  
  
  mk('rect', ab, {x:125, y:669, width:138, height:49, fill:'#fff', stroke:'#000', 'stroke-width':2});
  const t1 = mk('text', ab, {x:129, y:689, 'font-size':'17.5px'}); t1.textContent = 'slope = ' + walenFit[0].toFixed(3);
  const t2 = mk('text', ab, {x:129, y:712, 'font-size':'17.5px'}); addParts(t2, [{s:'r',math:true},{s:' = 0.436'}]);
})();

// ---- Time series ----
const tsTop = [1304,1637,1970,2303,2636,2969];
function tsAxes(name, i, yr, yt, yl, titleParts, ylParts, ylx){
  const ax = makeAxes(name, 117, tsTop[i], 1566, 223, [0,115], yr);
  xTicks(ax, timeTickMinutes, timeTickLabels, false);
  yTicks(ax, yt, yl, false);
  ax.fin = ()=>{ frame(ax); title(ax, titleParts, name+'-title'); ylabel(ax, ylParts, 'y-axis-title', ylx); };
  return ax;
}
(function(){
  const yt=[-6,-4,-2,0,2,4,6];
  const ax = tsAxes('magnetic-field-gse-chart', 0, [-6,6], yt, yt.map(v=>fmtNum(v,0)), [{s:'Magnetic Field (GSE Frame)'}], [{s:'B(nT)'}], 58);
  hline(ax, 0, 'zero-line');
  polyline(ax, bxGSE, '#ff0000', 2, 'bx-line');
  polyline(ax, byGSE, '#008000', 2, 'by-line');
  polyline(ax, bzGSE, '#0000ff', 2, 'bz-line');
  ax.fin();
  const lg = legendBox(ax, 1605, 1312, 71, 72);
  legendEntry(lg, 1614, 1636, 1324, '#ff0000', 1651, [{s:'Bx'}], '14px', null, 'legend-entry-bx');
  legendEntry(lg, 1614, 1636, 1347, '#008000', 1651, [{s:'By'}], '14px', null, 'legend-entry-by');
  legendEntry(lg, 1614, 1636, 1369, '#0000ff', 1651, [{s:'Bz'}], '14px', null, 'legend-entry-bz');
})();
(function(){
  const yt=[-4,-2,0,2,4,6];
  const ax = tsAxes('magnetic-field-flux-rope-chart', 1, [-4,6], yt, yt.map(v=>fmtNum(v,0)), [{s:'Magnetic Field (Flux Rope Frame)'}], [{s:'B(nT)'}], 58);
  hline(ax, 0, 'zero-line');
  polyline(ax, bxFR, '#ff0000', 2, 'bx-prime-line');
  polyline(ax, byFR, '#008000', 2, 'by-prime-line');
  polyline(ax, bzFR, '#0000ff', 2, 'bz-prime-line');
  polyline(ax, btFR, '#000000', 2, 'b-total-line');
  ax.fin();
  const lg = legendBox(ax, 1601, 1646, 75, 94);
  legendEntry(lg, 1610, 1632, 1658, '#ff0000', 1647, [{s:"Bx'"}], '14px', null, 'legend-entry-bx-prime');
  legendEntry(lg, 1610, 1632, 1681, '#008000', 1647, [{s:"By'"}], '14px', null, 'legend-entry-by-prime');
  legendEntry(lg, 1610, 1632, 1703, '#0000ff', 1647, [{s:"Bz'"}], '14px', null, 'legend-entry-bz-prime');
  legendEntry(lg, 1610, 1632, 1726, '#000000', 1647, [{s:'|B|'}], '14px', null, 'legend-entry-b-total');
})();
(function(){
  const yt=[-500,-400,-300,-200,-100,0,100];
  const ax = tsAxes('solar-wind-velocity-chart', 2, [-500,100], yt, yt.map(v=>fmtNum(v,0)), [{s:'Solar Wind Velocity (GSE Frame)'}], [{s:'Vsw(km/s)'}], 36);
  polyline(ax, vxGSE, '#ff0000', 2, 'vx-line');
  polyline(ax, vyGSE, '#008000', 2, 'vy-line');
  polyline(ax, vzGSE, '#0000ff', 2, 'vz-line');
  ax.fin();
  const lg = legendBox(ax, 1605, 1979, 71, 72);
  legendEntry(lg, 1614, 1636, 1991, '#ff0000', 1651, [{s:'Vx'}], '14px', null, 'legend-entry-vx');
  legendEntry(lg, 1614, 1636, 2014, '#008000', 1651, [{s:'Vy'}], '14px', null, 'legend-entry-vy');
  legendEntry(lg, 1614, 1636, 2037, '#0000ff', 1651, [{s:'Vz'}], '14px', null, 'legend-entry-vz');
})();
(function(){
  const yt=[0,1,2,3,4,5];
  const ax = tsAxes('plasma-beta-chart', 3, [0,5], yt, yt.map(v=>fmtNum(v,0)), [{s:'Plasma Beta'}], [{s:'\u03b2',math:true},{s:'p',math:true,sub:'11px'},{s:' and '},{s:'\u03b2',math:true}], 64);
  polyline(ax, betaP, '#0000ff', 2, 'beta-p-line');
  ax.fin();
  const lg = legendBox(ax, 1608, 2312, 69, 31);
  legendEntry(lg, 1617, 1639, 2327, '#0000ff', 1655, [{s:'\u03b2',math:true},{s:'p',math:true,sub:'10px'}], '14px', null, 'legend-entry-beta-p');
})();
(function(){
  const yt=[0,5,10,15,20,25,30,35,40];
  const ax = tsAxes('proton-density-chart', 4, [0,40], yt, yt.map(v=>fmtNum(v,0)), [{s:'Proton Number Density'}], [{s:'Np(#/cc)'}], 60);
  polyline(ax, npDensity, '#0000ff', 2.2, 'np-line');
  ax.fin();
})();
(function(){
  const yt=[0,0.1,0.2,0.3,0.4,0.5];
  const ax = tsAxes('proton-temperature-chart', 5, [0,0.5], yt, yt.map(v=>fmtNum(v,1)), [{s:'Proton Temperature and '},{s:'T',math:true},{s:'e',math:true,sub:'14px'},{s:'/T',math:true},{s:'p',math:true,sub:'14px'}], [{s:'Tp(10'},{s:'6',sup:'11px'},{s:'K)'}], 48);
  polyline(ax, tpTemp, '#0000ff', 2, 'tp-line');
  ax.fin();
  const lg = legendBox(ax, 124, 2980, 71, 28);
  legendEntry(lg, 132, 154, 2994, '#0000ff', 168, [{s:'Tp'}], '14px', null, 'legend-entry-tp');
})();
</script>
</body></html>
